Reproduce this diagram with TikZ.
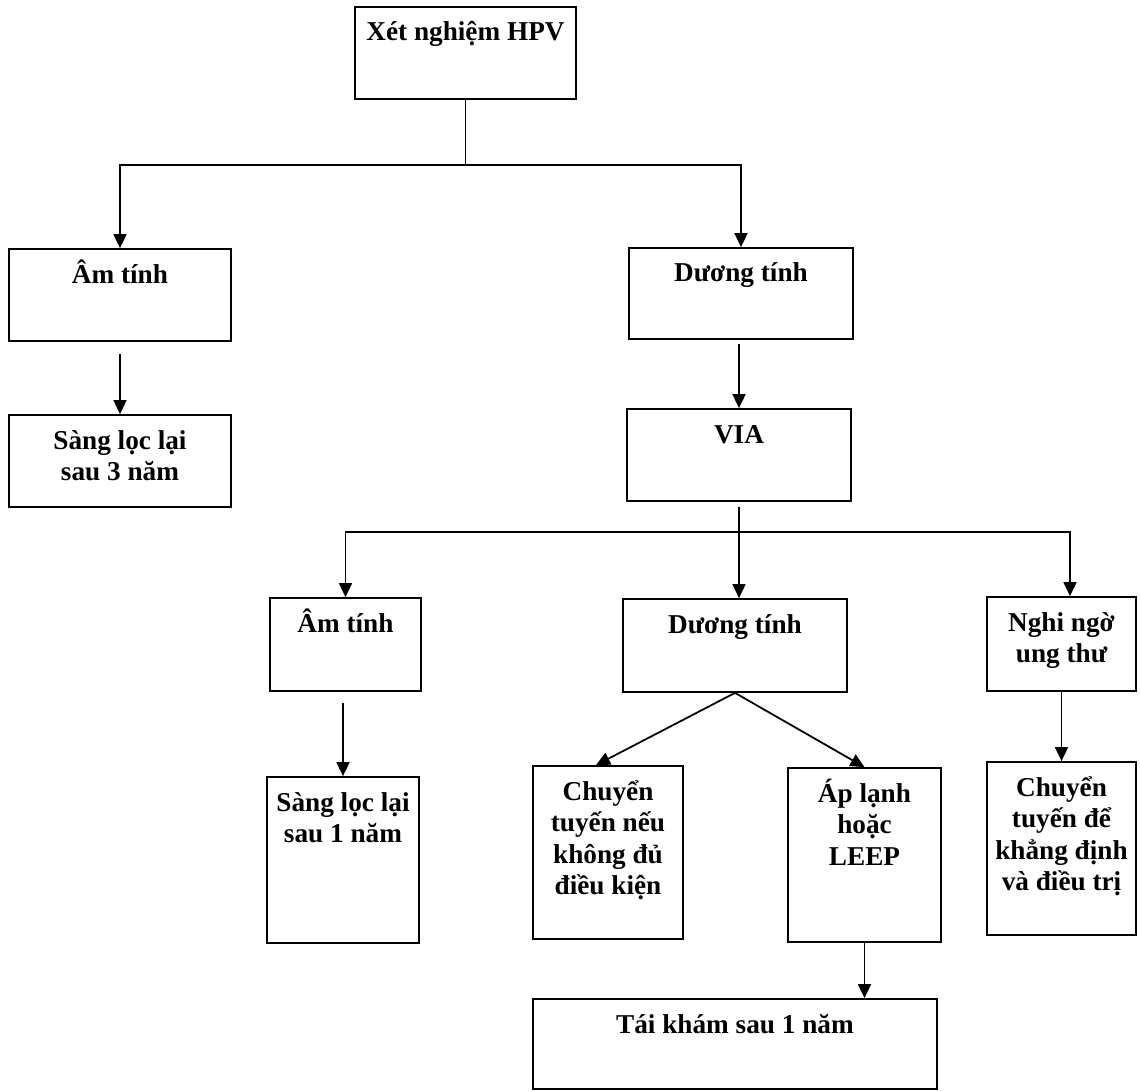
\documentclass[tikz,border=0pt]{standalone}
\usepackage{fontspec}
\setmainfont{Liberation Serif}
\usetikzlibrary{arrows.meta}

\tikzset{
    box/.style={draw, line width=1pt, inner sep=0pt, font=\bfseries\fontsize{15.5}{18}\selectfont},
    arrow/.style={line width=1pt, -{Triangle[length=0.28cm, width=0.26cm]}},
    link/.style={line width=1pt}
}
% text top-aligned inside a box of given width and height
\newcommand{\boxtext}[3]{\parbox[c][#2][t]{#1}{\centering\rule{0pt}{0.68cm}#3}}

\begin{document}
\begin{tikzpicture}[x=0.02cm, y=-0.02cm]
    \useasboundingbox (0,0) rectangle (1140,1091);

    \node[box] (hpv) at (465.5,53) {\boxtext{4.42cm}{1.84cm}{Xét nghiệm HPV}};

    \node[box] (neg1) at (120,295) {\boxtext{4.44cm}{1.84cm}{Âm tính}};
    \node[box] (rescreen3) at (120,461) {\boxtext{4.44cm}{1.84cm}{Sàng lọc lại\\sau 3 năm}};

    \node[box] (pos1) at (741,293.5) {\boxtext{4.48cm}{1.82cm}{Dương tính}};
    \node[box] (via) at (739,455) {\boxtext{4.48cm}{1.84cm}{VIA}};

    \node[box] (neg2) at (345.5,644.5) {\boxtext{3.02cm}{1.86cm}{Âm tính}};
    \node[box] (rescreen1) at (343,860) {\boxtext{3.04cm}{3.32cm}{Sàng lọc lại\\sau 1 năm}};

    \node[box] (pos2) at (735,645.5) {\boxtext{4.48cm}{1.86cm}{Dương tính}};
    \node[box] (refer) at (608,852.5) {\boxtext{3.0cm}{3.46cm}{Chuyển\\tuyến nếu\\không đủ\\điều kiện}};
    \node[box] (cryo) at (864.5,855) {\boxtext{3.06cm}{3.48cm}{Áp lạnh\\hoặc\\LEEP}};
    \node[box] (followup) at (735,1044) {\boxtext{8.08cm}{1.8cm}{Tái khám sau 1 năm}};

    \node[box] (suspect) at (1061.5,644) {\boxtext{2.98cm}{1.88cm}{Nghi ngờ\\ung thư}};
    \node[box] (confirm) at (1061.5,848.5) {\boxtext{2.98cm}{3.46cm}{Chuyển\\tuyến để\\khẳng định\\và điều trị}};

    % first split
    \coordinate (split1) at (465.5,165);
    \draw[link] (hpv.south) -- (split1);
    \draw[arrow] (split1) -| (neg1.north);
    \draw[arrow] (split1) -| (pos1.north);

    \draw[arrow, shorten <=0.24cm] (neg1) -- (rescreen3);
    \draw[arrow, shorten <=0.08cm] (pos1.south -| via.north) -- (via.north);

    % second split
    \coordinate (split2) at (739,532);
    \draw[link, shorten <=0.1cm] (via.south) -- (split2);
    \draw[arrow] (split2) -| (neg2.north);
    \draw[arrow] (split2) -- (split2 |- pos2.north);
    \draw[arrow] (split2) -| ([xshift=0.17cm]suspect.north);

    \draw[arrow, shorten <=0.22cm] (neg2.south -| rescreen1.north) -- (rescreen1.north);
    \draw[arrow] (pos2.south) -- ([xshift=-0.24cm]refer.north);
    \draw[arrow] (pos2.south) -- (cryo.north);
    \draw[arrow] (suspect) -- (confirm);
    \draw[arrow] (cryo.south) -- (cryo.south |- followup.north);
\end{tikzpicture}
\end{document}
